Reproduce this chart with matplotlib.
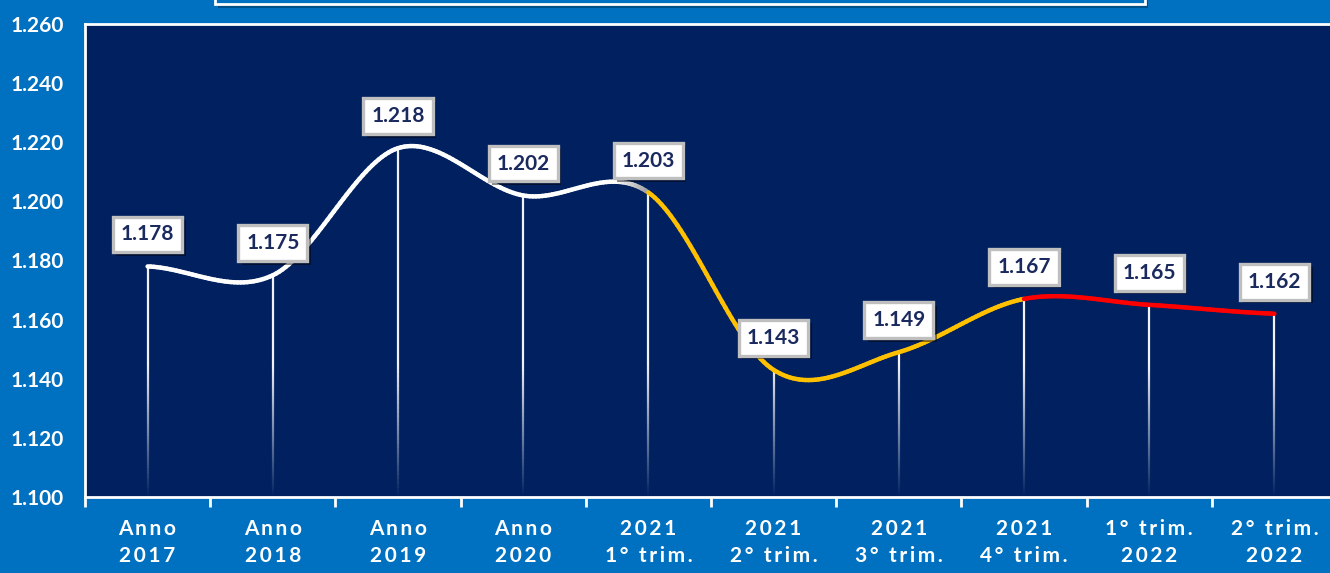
import numpy as np
import matplotlib
matplotlib.use("Agg")
import matplotlib.pyplot as plt
from matplotlib.collections import LineCollection
from matplotlib.patches import Rectangle
from matplotlib.colors import to_rgba
import matplotlib.patheffects as pe
from matplotlib.ticker import FuncFormatter, MultipleLocator, FixedLocator

plt.rcParams['font.family'] = ['Lato', 'DejaVu Sans']

categories = ["Anno\n2017", "Anno\n2018", "Anno\n2019", "Anno\n2020",
              "2021\n1° trim.", "2021\n2° trim.", "2021\n3° trim.", "2021\n4° trim.",
              "1° trim.\n2022", "2° trim.\n2022"]
values = [1178, 1175, 1218, 1202, 1203, 1143, 1149, 1167, 1165, 1162]
# colour of the curve segment leaving each point
segment_colors = ["#FFFFFF", "#FFFFFF", "#FFFFFF", "#FFFFFF",
                  "#FFC000", "#FFC000", "#FFC000", "#FF0000", "#FF0000"]

FIG_BG = "#0070C0"
PLOT_BG = "#00205F"
LABEL_COL = "#1B2A5E"

W, H = 1330, 573
fig = plt.figure(figsize=(W / 100, H / 100), dpi=100)
fig.patch.set_facecolor(FIG_BG)

left, right_px, top, bottom = 85, 85 + 1252, 24, 497
ax = fig.add_axes([left / W, (H - bottom) / H, (right_px - left) / W, (bottom - top) / H])
ax.set_facecolor(PLOT_BG)

n = len(values)
x = np.arange(n, dtype=float)
y = np.array(values, dtype=float)

ax.set_xlim(-0.5, n - 0.5)
ax.set_ylim(1100, 1260)

# drop lines with fade
for xi, yi in zip(x, y):
    ys = np.linspace(yi, 1100, 80)
    segs = [[(xi, ys[k]), (xi, ys[k + 1])] for k in range(len(ys) - 1)]
    mid = (ys[:-1] + ys[1:]) / 2
    alpha = np.clip((mid - 1100) / 45.0, 0, 1) * 0.95
    cols = [(1, 1, 1, a) for a in alpha]
    ax.add_collection(LineCollection(segs, colors=cols, linewidths=1.6, zorder=2))

# Catmull-Rom smooth curve (Excel-like smoothing)
def tangents(y):
    m = np.zeros_like(y)
    m[0] = (y[1] - y[0]) / 2
    m[-1] = (y[-1] - y[-2]) / 2
    m[1:-1] = (y[2:] - y[:-2]) / 2
    return m

m = tangents(y)
segs, cols = [], []
for i in range(n - 1):
    t = np.linspace(0, 1, 40)
    h00 = 2 * t**3 - 3 * t**2 + 1
    h10 = t**3 - 2 * t**2 + t
    h01 = -2 * t**3 + 3 * t**2
    h11 = t**3 - t**2
    yy = h00 * y[i] + h10 * m[i] + h01 * y[i + 1] + h11 * m[i + 1]
    xx = x[i] + t
    c = np.array(to_rgba(segment_colors[i]))
    for k in range(len(t) - 1):
        cc = c.copy()
        if i == 3:
            tm = (t[k] + t[k + 1]) / 2
            if tm > 0.75:
                f = (tm - 0.75) / 0.25
                cc = (1 - f) * c + f * np.array(to_rgba("#A0A0A0"))
        segs.append([(xx[k], yy[k]), (xx[k + 1], yy[k + 1])])
        cols.append(cc)
ax.add_collection(LineCollection(segs, colors=cols, linewidths=3.2, capstyle='round', zorder=3))

# data labels
for xi, yi, v in zip(x, y, values):
    lab = f"{v/1000:.3f}"
    t = ax.annotate(lab, (xi, yi), xytext=(0, 23), textcoords='offset points',
                    ha='center', va='center', fontsize=15, fontweight='bold',
                    color=LABEL_COL, zorder=5,
                    bbox=dict(boxstyle='square,pad=0.38', facecolor='white',
                              edgecolor='#BFBFBF', linewidth=2.4))
    t.get_bbox_patch().set_path_effects([
        pe.SimplePatchShadow(offset=(2.5, -2.5), shadow_rgbFace='black', alpha=0.45),
        pe.Normal()])

# axes styling
for s in ['left', 'top', 'bottom']:
    ax.spines[s].set_color('white')
    ax.spines[s].set_linewidth(2)
ax.spines['right'].set_visible(False)

ax.yaxis.set_major_locator(MultipleLocator(20))
ax.yaxis.set_major_formatter(FuncFormatter(lambda v, p: f"{v/1000:.3f}"))
ax.tick_params(axis='y', length=0, pad=15.5, labelsize=15, labelcolor='white')
for lbl in ax.get_yticklabels():
    lbl.set_fontweight('bold')

spaced = ["\n".join("\u2009".join(list(line)) for line in c.split("\n")) for c in categories]
ax.set_xticks(x)
ax.set_xticklabels(spaced, fontsize=15, fontweight='bold', color='white', linespacing=1.45)
ax.tick_params(axis='x', which='major', length=0, pad=16)
ax.xaxis.set_minor_locator(FixedLocator(np.arange(-0.5, n, 1.0)))
ax.tick_params(axis='x', which='minor', length=7, width=2, color='white', direction='out')

# title box partially visible at top
rect = Rectangle((215 / W, (H - 4) / H), 930 / W, 0.2, transform=fig.transFigure,
                 facecolor=FIG_BG, edgecolor='white', linewidth=2, zorder=10,
                 path_effects=[pe.SimplePatchShadow(offset=(2, -3), alpha=0.4), pe.Normal()])
fig.patches.append(rect)

fig.savefig("out.png", dpi=100, facecolor=FIG_BG)
